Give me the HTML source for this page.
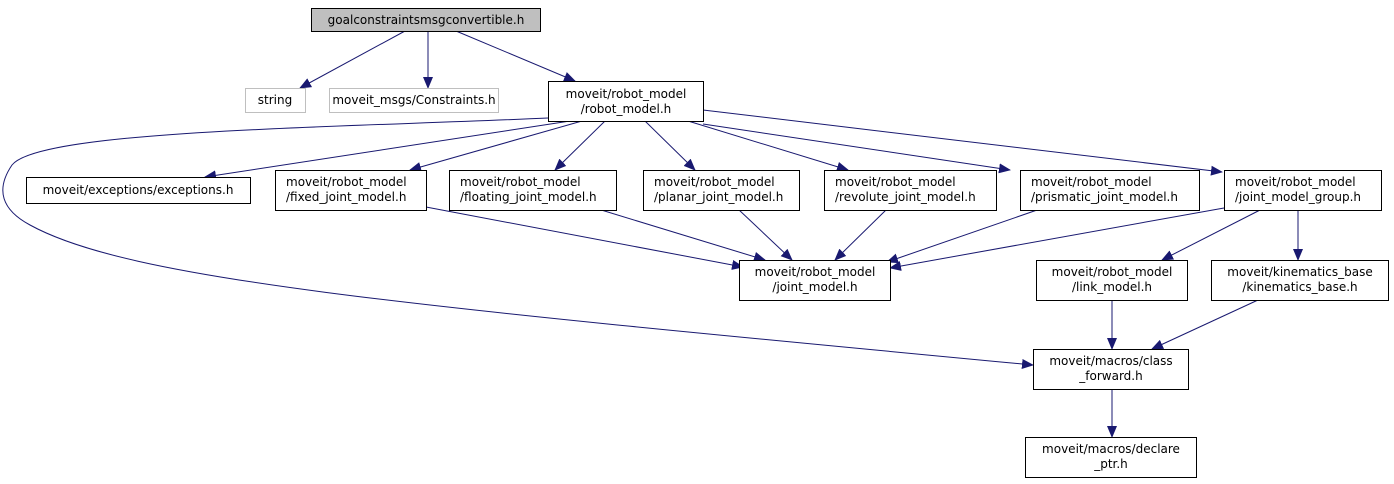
<!DOCTYPE html>
<html><head><meta charset="utf-8"><style>
html,body{margin:0;padding:0;background:#fff;width:1394px;height:484px;overflow:hidden}
text{font-family:"DejaVu Sans","Liberation Sans",sans-serif;font-size:12px;fill:#000}
</style></head><body>
<svg width="1394" height="484" viewBox="0 0 1394 484" xmlns="http://www.w3.org/2000/svg">
<defs><marker id="a" markerWidth="12" markerHeight="10" refX="11" refY="5" orient="auto" markerUnits="userSpaceOnUse"><path d="M0,0 L12,5 L0,10 z" fill="#191970"/></marker></defs>
<g fill="none" stroke="#191970" stroke-width="1" marker-end="url(#a)">
<path d="M405,31 L300,88"/>
<path d="M428,31 L428,88"/>
<path d="M456,31 L575,81"/>
<path d="M570,121 L205,177"/>
<path d="M582,121 L410,170"/>
<path d="M605,121 L555,170"/>
<path d="M645,121 L695,170"/>
<path d="M688,121 L848,170"/>
<path d="M703,124 L1010,170"/>
<path d="M703,110 L1222,172"/>
<path d="M548,118 C330,128 40,130 12,165 C-5,190 2,210 30,225 C130,280 400,305 1033,365"/>
<path d="M426,207 L743,267"/>
<path d="M598,209 L765,260"/>
<path d="M738,209 L792,260"/>
<path d="M887,209 L835,260"/>
<path d="M1040,209 L887,262"/>
<path d="M1224,208 L890,268"/>
<path d="M1262,209 L1162,260"/>
<path d="M1298,209 L1298,260"/>
<path d="M1112,300 L1112,349"/>
<path d="M1258,300 L1152,349"/>
<path d="M1112,389 L1112,437"/>
</g>
<g stroke-width="1">
<rect x="311.5" y="8.5" width="229" height="23" fill="#bfbfbf" stroke="#000"/>
<rect x="245.5" y="88.5" width="60" height="24" fill="#fff" stroke="#bfbfbf"/>
<rect x="329.5" y="88.5" width="169" height="24" fill="#fff" stroke="#bfbfbf"/>
<rect x="548.5" y="81.5" width="155" height="40" fill="#fff" stroke="#000"/>
<rect x="26.5" y="177.5" width="224" height="26" fill="#fff" stroke="#000"/>
<rect x="275.5" y="170.5" width="151" height="40" fill="#fff" stroke="#000"/>
<rect x="449.5" y="170.5" width="167" height="40" fill="#fff" stroke="#000"/>
<rect x="643.5" y="170.5" width="156" height="40" fill="#fff" stroke="#000"/>
<rect x="824.5" y="170.5" width="172" height="40" fill="#fff" stroke="#000"/>
<rect x="1020.5" y="170.5" width="179" height="40" fill="#fff" stroke="#000"/>
<rect x="1224.5" y="170.5" width="157" height="40" fill="#fff" stroke="#000"/>
<rect x="739.5" y="260.5" width="151" height="40" fill="#fff" stroke="#000"/>
<rect x="1036.5" y="260.5" width="151" height="40" fill="#fff" stroke="#000"/>
<rect x="1211.5" y="260.5" width="177" height="40" fill="#fff" stroke="#000"/>
<rect x="1033.5" y="349.5" width="155" height="40" fill="#fff" stroke="#000"/>
<rect x="1025.5" y="437.5" width="171" height="40" fill="#fff" stroke="#000"/>
</g>
<g text-anchor="middle">
<text x="426" y="24">goalconstraintsmsgconvertible.h</text>
<text x="275" y="104">string</text>
<text x="414" y="104">moveit_msgs/Constraints.h</text>
<text x="626" y="98">moveit/robot_model</text><text x="626" y="113">/robot_model.h</text>
<text x="138" y="194">moveit/exceptions/exceptions.h</text>
</g>
<g>
<text x="286" y="186">moveit/robot_model</text><text x="286" y="201">/fixed_joint_model.h</text>
<text x="460" y="186">moveit/robot_model</text><text x="460" y="201">/floating_joint_model.h</text>
<text x="654" y="186">moveit/robot_model</text><text x="654" y="201">/planar_joint_model.h</text>
<text x="835" y="186">moveit/robot_model</text><text x="835" y="201">/revolute_joint_model.h</text>
<text x="1031" y="186">moveit/robot_model</text><text x="1031" y="201">/prismatic_joint_model.h</text>
<text x="1235" y="186">moveit/robot_model</text><text x="1235" y="201">/joint_model_group.h</text>
</g>
<g text-anchor="middle">
<text x="815" y="276">moveit/robot_model</text><text x="815" y="291">/joint_model.h</text>
<text x="1112" y="276">moveit/robot_model</text><text x="1112" y="291">/link_model.h</text>
<text x="1300" y="276">moveit/kinematics_base</text><text x="1300" y="291">/kinematics_base.h</text>
<text x="1111" y="365">moveit/macros/class</text><text x="1111" y="380">_forward.h</text>
<text x="1111" y="453">moveit/macros/declare</text><text x="1111" y="468">_ptr.h</text>
</g>
</svg>
</body></html>
